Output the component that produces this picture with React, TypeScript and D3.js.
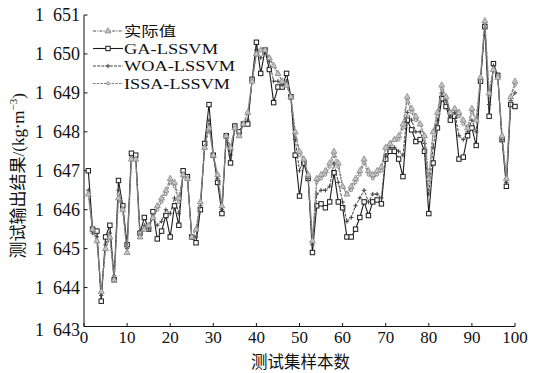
import React from "react";
import * as d3 from "d3";

// sample index 1..100
const samples = d3.range(1, 101);

const actual = [
  1646.4, 1645.5, 1645.2, 1643.9, 1645.0, 1645.3, 1644.2, 1646.3, 1646.0, 1644.9,
  1647.3, 1647.3, 1645.3, 1645.5, 1645.6, 1645.8, 1646.1, 1646.3, 1646.5, 1646.8,
  1646.7, 1646.3, 1646.9, 1646.8, 1645.3, 1645.5, 1646.2, 1647.6, 1648.1, 1647.4,
  1646.9, 1646.1, 1647.9, 1647.6, 1648.1, 1647.9, 1648.2, 1648.5, 1649.3, 1650.0,
  1650.1, 1650.1, 1649.9, 1649.7, 1649.5, 1649.3, 1649.2, 1648.9, 1648.0, 1647.5,
  1647.3, 1646.9, 1645.2, 1646.8, 1646.9, 1647.0, 1647.2, 1647.5, 1647.2, 1646.6,
  1646.4, 1646.6, 1646.8, 1647.0, 1647.3, 1647.0, 1646.9, 1647.0, 1647.1, 1647.6,
  1647.7, 1647.8, 1647.9, 1648.2, 1648.9, 1648.6, 1648.4, 1648.2, 1647.9, 1646.8,
  1648.0, 1648.5, 1649.2, 1648.9, 1648.5, 1648.6, 1648.5, 1648.3, 1648.1, 1648.6,
  1648.3, 1649.4, 1650.85, 1649.0, 1649.6, 1649.4, 1647.9, 1646.8, 1648.9, 1649.3,
];

const gaLssvm = [
  1647.0, 1645.5, 1645.45, 1643.65, 1645.3, 1645.6, 1644.2, 1646.75, 1646.1, 1645.1,
  1647.45, 1647.4, 1645.4, 1645.8, 1645.5, 1645.95, 1645.25, 1645.45, 1645.85, 1645.3,
  1646.1, 1645.6, 1647.0, 1646.85, 1645.3, 1645.15, 1646.0, 1647.7, 1648.7, 1647.4,
  1646.7, 1645.9, 1647.9, 1647.2, 1648.15, 1648.0, 1648.2, 1648.2, 1649.35, 1650.3,
  1649.5, 1650.1, 1649.6, 1648.75, 1649.15, 1649.15, 1649.5, 1648.9, 1647.4, 1646.35,
  1647.2, 1646.8, 1644.9, 1646.1, 1646.15, 1646.05, 1646.2, 1646.95, 1646.2, 1646.05,
  1645.3, 1645.3, 1645.5, 1645.8, 1646.2, 1645.85, 1646.2, 1646.25, 1646.15, 1647.3,
  1647.5, 1647.5, 1647.3, 1646.85, 1648.3, 1648.05, 1647.75, 1647.8, 1647.5, 1645.9,
  1647.2, 1648.1, 1648.85, 1648.65, 1648.3, 1648.4, 1647.3, 1647.35, 1647.9, 1648.1,
  1647.65, 1649.3, 1650.7, 1648.4, 1649.75, 1649.45, 1647.8, 1646.6, 1648.7, 1648.65,
];

const woaLssvm = [
  1646.5, 1645.4, 1645.3, 1643.8, 1645.1, 1645.4, 1644.3, 1646.5, 1646.0, 1645.0,
  1647.35, 1647.3, 1645.3, 1645.6, 1645.5, 1645.8, 1645.6, 1645.7, 1646.0, 1645.9,
  1646.3, 1645.9, 1646.9, 1646.8, 1645.3, 1645.3, 1646.1, 1647.6, 1648.3, 1647.4,
  1646.8, 1646.0, 1647.9, 1647.4, 1648.1, 1647.9, 1648.2, 1648.3, 1649.3, 1650.1,
  1649.9, 1650.1, 1649.8, 1649.3, 1649.3, 1649.2, 1649.3, 1648.9, 1647.8, 1647.0,
  1647.3, 1646.8, 1645.1, 1646.4, 1646.5, 1646.5, 1646.6, 1647.2, 1646.7, 1646.2,
  1645.7, 1645.8, 1646.1, 1646.3, 1646.5, 1646.2, 1646.4, 1646.4, 1646.3, 1647.4,
  1647.6, 1647.6, 1647.5, 1647.4, 1648.5, 1648.3, 1648.0, 1648.0, 1647.7, 1646.4,
  1647.6, 1648.3, 1649.0, 1648.8, 1648.4, 1648.5, 1647.9, 1647.8, 1648.0, 1648.3,
  1648.0, 1649.35, 1650.8, 1648.7, 1649.7, 1649.4, 1647.8, 1646.7, 1648.8, 1649.0,
];

const issaLssvm = [
  1646.4, 1645.5, 1645.2, 1643.9, 1645.0, 1645.3, 1644.2, 1646.4, 1646.0, 1644.9,
  1647.3, 1647.3, 1645.3, 1645.5, 1645.6, 1645.8, 1646.0, 1646.2, 1646.4, 1646.7,
  1646.6, 1646.2, 1646.9, 1646.8, 1645.3, 1645.5, 1646.2, 1647.6, 1648.1, 1647.4,
  1646.9, 1646.1, 1647.9, 1647.6, 1648.1, 1647.9, 1648.2, 1648.5, 1649.3, 1650.0,
  1650.1, 1650.1, 1649.9, 1649.7, 1649.5, 1649.3, 1649.2, 1648.9, 1648.0, 1647.4,
  1647.3, 1646.9, 1645.2, 1646.7, 1646.8, 1646.9, 1647.1, 1647.4, 1647.1, 1646.6,
  1646.4, 1646.5, 1646.7, 1646.9, 1647.2, 1646.9, 1646.8, 1646.9, 1647.0, 1647.6,
  1647.7, 1647.8, 1647.8, 1648.1, 1648.8, 1648.5, 1648.3, 1648.2, 1647.9, 1646.7,
  1648.0, 1648.4, 1649.1, 1648.9, 1648.5, 1648.6, 1648.4, 1648.2, 1648.1, 1648.5,
  1648.3, 1649.4, 1650.8, 1649.0, 1649.6, 1649.4, 1647.9, 1646.8, 1648.9, 1649.2,
];

const seriesNames = ["实际值", "GA-LSSVM", "WOA-LSSVM", "ISSA-LSSVM"];
const xTicks = [0, 10, 20, 30, 40, 50, 60, 70, 80, 90, 100];
const yTicks = [1643, 1644, 1645, 1646, 1647, 1648, 1649, 1650, 1651];

const width = 538;
const height = 373;
const marginLeft = 84;
const marginRight = 23;
const marginTop = 15;
const marginBottom = 46.5;

const serif = "'Liberation Serif', 'DejaVu Serif', serif";
const cjk = "'Noto Sans CJK SC', sans-serif";

type Style = { color: string; dash?: string; marker: string; width: number };

const styles: Style[] = [
  { color: "#8a8a8a", dash: "3,1.2,1,1.2", marker: "triangle", width: 1.3 },
  { color: "#1a1a1a", marker: "square", width: 1.1 },
  { color: "#444", dash: "3,1.2", marker: "plus", width: 1 },
  { color: "#7a7a7a", dash: "2.5,1.2", marker: "circle", width: 1.1 },
];

// legend text widths as seen in the picture
const legendWidths = [52, 94, 111, 106];

function Marker({ kind, x, y, color }: { kind: string; x: number; y: number; color: string }) {
  if (kind === "square") {
    return <rect x={x - 2.2} y={y - 2.2} width={4.4} height={4.4} fill="white" stroke={color} strokeWidth={1} />;
  }
  if (kind === "triangle") {
    return (
      <path
        d={`M${x},${y - 3.3}L${x + 3},${y + 2}L${x - 3},${y + 2}Z`}
        fill="#c4c4c4"
        stroke={color}
        strokeWidth={0.8}
      />
    );
  }
  if (kind === "plus") {
    return <path d={`M${x - 2.2},${y}H${x + 2.2}M${x},${y - 2.2}V${y + 2.2}`} stroke={color} strokeWidth={1} />;
  }
  return <circle cx={x} cy={y} r={1.5} fill="#ddd" stroke={color} strokeWidth={0.8} />;
}

export default function App() {
  const x = d3.scaleLinear().domain([0, 100]).range([marginLeft, width - marginRight]);
  const y = d3.scaleLinear().domain([1643, 1651]).range([height - marginBottom, marginTop]);

  const all = [actual, gaLssvm, woaLssvm, issaLssvm];
  const line = d3
    .line<number>()
    .x((_, i) => x(samples[i]))
    .y((d) => y(d));

  const order = [1, 2, 3, 0];
  const legendY = [31, 48.5, 66, 83.5];

  return (
    <svg
      width={width}
      height={height}
      viewBox={`0 0 ${width} ${height}`}
      style={{ position: "absolute", left: 0, top: 0, background: "white" }}
    >
      {/* y axis */}
      <line x1={marginLeft} x2={marginLeft} y1={y(1651)} y2={y(1643)} stroke="#111" strokeWidth={1} />
      {yTicks.map((t) => (
        <g key={t}>
          <line x1={marginLeft} x2={marginLeft + 3.5} y1={y(t)} y2={y(t)} stroke="#111" />
          <text
            x={marginLeft - 4}
            y={y(t) + (t === 1643 ? 3 : 0)}
            dy="0.35em"
            textAnchor="end"
            fontFamily={serif}
            fontSize={18}
            fill="#111"
          >
            {String(t).slice(0, 1) + "\u2002" + String(t).slice(1)}
          </text>
        </g>
      ))}

      {/* x axis */}
      <line x1={marginLeft} x2={width - marginRight} y1={y(1643)} y2={y(1643)} stroke="#111" strokeWidth={1} />
      {xTicks.map((t) => (
        <g key={t}>
          <line x1={x(t)} x2={x(t)} y1={y(1643)} y2={y(1643) - 3.5} stroke="#111" />
          <text x={x(t)} y={343} textAnchor="middle" fontFamily={serif} fontSize={17} fill="#111">
            {t}
          </text>
        </g>
      ))}

      <text x={x(50) + 1} y={368} textAnchor="middle" fontFamily={cjk} fontSize={16.5} fill="#111">
        测试集样本数
      </text>
      <text
        transform={`translate(24,${(y(1643) + y(1651)) / 2 + 5}) rotate(-90)`}
        textAnchor="middle"
        fontSize={17}
        fill="#111"
      >
        <tspan fontFamily={cjk}>测试输出结果</tspan>
        <tspan fontFamily={serif}>/(kg</tspan>
        <tspan fontFamily="'DejaVu Sans', sans-serif">·</tspan>
        <tspan fontFamily={serif}>m</tspan>
        <tspan fontFamily={serif} fontSize={11} dy={-7}>
          −3
        </tspan>
        <tspan fontFamily={serif} dy={7}>
          )
        </tspan>
      </text>

      {/* series */}
      {order.map((k) => {
        const s = styles[k];
        const vals = all[k];
        return (
          <g key={k}>
            <path d={line(vals) ?? ""} fill="none" stroke={s.color} strokeWidth={s.width} strokeDasharray={s.dash} />
            {vals.map((v, i) => (
              <Marker key={i} kind={s.marker} x={x(samples[i])} y={y(v)} color={s.color} />
            ))}
          </g>
        );
      })}

      {/* legend */}
      {seriesNames.map((name, k) => {
        const s = styles[k];
        const ly = legendY[k];
        return (
          <g key={name}>
            <line x1={93} x2={123} y1={ly} y2={ly} stroke={s.color} strokeWidth={s.width} strokeDasharray={s.dash} />
            <Marker kind={s.marker} x={108} y={ly} color={s.color} />
            <text
              x={124}
              y={ly}
              dy="0.35em"
              fontFamily={k === 0 ? cjk : serif}
              fontSize={k === 0 ? 14 : 15.5}
              textLength={legendWidths[k]}
              lengthAdjust="spacingAndGlyphs"
              fill="#111"
            >
              {name}
            </text>
          </g>
        );
      })}
    </svg>
  );
}
